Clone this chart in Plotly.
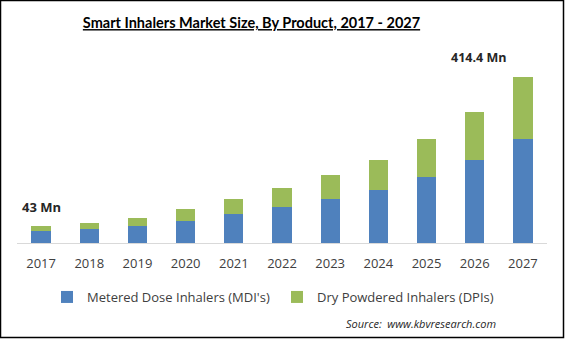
import plotly.graph_objects as go

years = ["2017", "2018", "2019", "2020", "2021", "2022", "2023", "2024", "2025", "2026", "2027"]
mdi = [30, 35, 42, 55, 72, 90, 110, 132, 165, 207, 259.6]
dpi = [13, 15, 20, 30, 38, 47, 60, 75, 95, 120, 154.8]
first_label = "43 Mn"
last_label = "414.4 Mn"

W, H = 565, 339
L, R, T, B = 17, 18, 60, 96
pw, ph = W - L - R, H - T - B

fig = go.Figure()
fig.add_trace(go.Bar(x=years, y=mdi, name="Metered Dose Inhalers (MDI's)", legend="legend",
                     marker=dict(color="#4F81BD", line=dict(width=0)), width=0.4))
fig.add_trace(go.Bar(x=years, y=dpi, name="Dry Powdered Inhalers (DPIs)", legend="legend2",
                     marker=dict(color="#9BBB59", line=dict(width=0)), width=0.4))

total_first = mdi[0] + dpi[0]
total_last = mdi[-1] + dpi[-1]

fig.add_annotation(x=0, xref="x", y=total_first, yref="y", text="<b>" + first_label + "</b>",
                   showarrow=False, yanchor="bottom", yshift=8, xshift=0,
                   font=dict(family="Open Sans, sans-serif", size=13, color="#262626"))
fig.add_annotation(x=10, xref="x", y=total_last, yref="y", text="<b>" + last_label + "</b>",
                   showarrow=False, yanchor="bottom", yshift=9, xshift=-44,
                   font=dict(family="Open Sans, sans-serif", size=12.5, color="#262626"))

fig.add_annotation(xref="paper", yref="paper", x=(498 - L) / pw, y=(H - B - 323) / ph,
                   text="<i>Source:  www.kbvresearch.com</i>", showarrow=False,
                   xanchor="right", yanchor="middle",
                   font=dict(family="Open Sans, sans-serif", size=11, color="#262626"))

# outer frame
fig.add_shape(type="rect", xref="paper", yref="paper",
              x0=(-L + 0.5) / pw, x1=(W - L - 1.5) / pw,
              y0=(-(B) + 1.5) / ph, y1=(ph + T - 0.5) / ph,
              line=dict(color="#000000", width=1.5), fillcolor="rgba(0,0,0,0)", layer="above")

legfont = dict(family="Open Sans, sans-serif", size=13, color="#404040")
fig.update_layout(
    width=W, height=H,
    margin=dict(l=L, r=R, t=T, b=B),
    barmode="stack",
    paper_bgcolor="white", plot_bgcolor="white",
    title=dict(text="<b><u>Smart Inhalers Market Size, By Product, 2017 - 2027</u></b>",
               x=251.5 / W, xanchor="center", y=1 - 23 / H, yanchor="middle",
               font=dict(family="Lato, sans-serif", size=14.5, color="#000000")),
    showlegend=True,
    legend=dict(orientation="h", x=(47 - L) / pw, xanchor="left", y=(H - B - 297) / ph,
                yanchor="middle", font=legfont, itemwidth=30),
    legend2=dict(orientation="h", x=(277 - L) / pw, xanchor="left", y=(H - B - 297) / ph,
                 yanchor="middle", font=legfont, itemwidth=30),
    xaxis=dict(showline=True, linecolor="#D9D9D9", linewidth=1, ticks="", showgrid=False,
               tickfont=dict(family="Open Sans, sans-serif", size=13, color="#404040"),
               ticklabelstandoff=8, range=[-0.5, 10.5], type="category"),
    yaxis=dict(showticklabels=False, showline=False, zeroline=False, ticks="",
               range=[0, 414.4 * ph / 166], showgrid=False),
)

fig.write_html("out.html")
